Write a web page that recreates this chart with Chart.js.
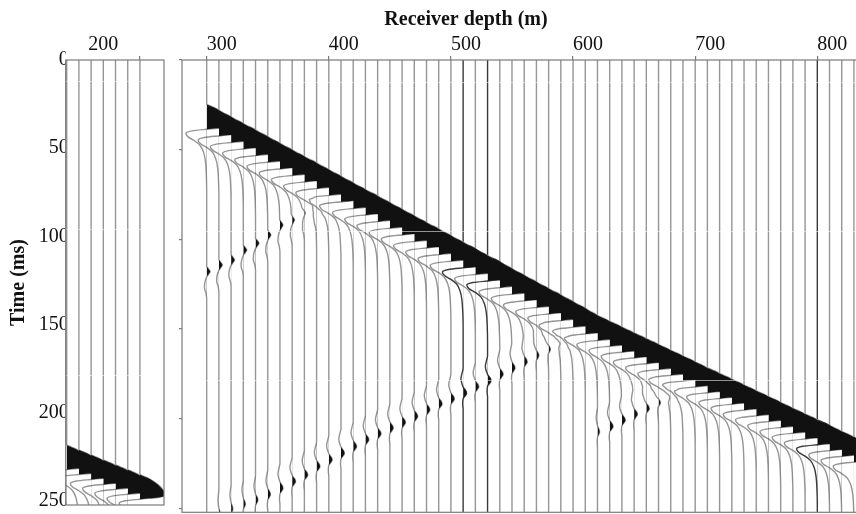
<!DOCTYPE html>
<html>
<head>
<meta charset="utf-8">
<script src="https://cdn.jsdelivr.net/npm/chart.js@4.4.1/dist/chart.umd.min.js"></script>
<style>
  html, body { margin: 0; padding: 0; background: #fff; overflow: hidden; }
  #wrap { position: relative; width: 856px; height: 514px; overflow: hidden; background: #fff; }
  canvas { position: absolute; top: 0; left: 0; }
</style>
</head>
<body>
<div id="wrap">
  <canvas id="shallow" width="180" height="514"></canvas>
  <canvas id="section" width="932" height="514"></canvas>
</div>
<script>
// ---------- time axis (ms) ----------
const TIME_TICKS = [0, 50, 100, 150, 200, 250];
const TIME_MAX = 252.2;

// ---------- main section: receivers every 10 m ----------
const MAIN_DEPTHS = [300, 310, 320, 330, 340, 350, 360, 370, 380, 390,
                     400, 410, 420, 430, 440, 450, 460, 470, 480, 490,
                     500, 510, 520, 530, 540, 550, 560, 570, 580, 590,
                     600, 610, 620, 630, 640, 650, 660, 670, 680, 690,
                     700, 710, 720, 730, 740, 750, 760, 770, 780, 790,
                     800, 810, 820, 830];
const MAIN_DEPTH_TICKS = [300, 400, 500, 600, 700, 800];
// first-break (direct downgoing wave) time per receiver, ms
const MAIN_DIRECT_T = [24.5, 28.2, 31.9, 35.5, 39.2, 42.9, 46.6, 50.3, 53.9, 57.6,
                       61.3, 65.0, 68.7, 72.3, 76.0, 79.7, 83.4, 87.1, 90.7, 94.4,
                       98.1, 101.8, 105.5, 109.1, 112.8, 116.5, 120.2, 123.9, 127.5, 131.2,
                       134.9, 138.6, 142.3, 145.5, 148.8, 152.0, 155.2, 158.5, 161.7, 164.9,
                       168.1, 171.4, 174.6, 177.8, 181.1, 184.3, 187.5, 190.8, 194.0, 197.2,
                       200.4, 203.7, 206.9, 210.1];

// upgoing reflection from the ~420 m interface
const UP1_DEPTHS = [300, 310, 320, 330, 340, 350, 360, 370, 380, 390, 400, 410];
const UP1_T      = [118.0, 114.3, 111.5, 106.0, 102.2, 97.6, 92.0, 89.2, 85.2, 81.1, 77.0, 72.9];
const UP1_GAIN   = [1.0, 1.0, 1.0, 1.0, 1.0, 0.9, 0.9, 0.8, 0.7, 0.6, 0.5, 0.4];

// upgoing reflection from the ~620 m interface
const UP2_DEPTHS = [310, 320, 330, 340, 350, 360, 370, 380, 390, 400,
                    410, 420, 430, 440, 450, 460, 470, 480, 490, 500,
                    510, 520, 530, 540, 550, 560, 570, 580, 590, 600, 610];
const UP2_T      = [253.5, 250.5, 247.8, 245.5, 242.4, 238.9, 235.2, 231.5, 226.8, 223.1,
                    219.4, 215.7, 211.9, 208.6, 205.4, 202.3, 198.9, 195.2, 191.9, 189.1,
                    185.9, 182.4, 178.9, 175.4, 171.9, 168.4, 164.9, 161.4, 157.9, 154.4, 150.9];
const UP2_GAIN   = [0.4, 0.5, 0.6, 0.7, 0.8, 0.9, 1.0, 1.0, 1.0, 1.0,
                    1.0, 1.0, 1.0, 1.0, 1.0, 1.0, 1.0, 1.0, 1.0, 1.0,
                    1.0, 1.0, 1.0, 1.0, 0.9, 0.9, 0.8, 0.8, 0.7, 0.6, 0.5];

// upgoing reflection from the ~720 m interface
const UP3_DEPTHS = [620, 630, 640, 650, 660, 670, 680, 690, 700];
const UP3_T      = [207.5, 204.5, 201.0, 197.7, 194.4, 191.1, 187.8, 184.5, 181.2];
const UP3_GAIN   = [0.6, 1.0, 1.0, 1.0, 1.0, 0.9, 0.8, 0.6, 0.4];

// ---------- shallow window ----------
const LEFT_DEPTHS   = [170, 180, 190, 200, 210, 220, 230];
const LEFT_DIRECT_T = [218.0, 220.8, 223.6, 226.4, 229.2, 232.0, 234.8];
const LEFT_LABEL_TICKS = [200];
const LEFT_MARK_TICKS  = [230];

// ---------- wavelets: lag (ms) and amplitude (in receiver spacings) ----------
const DIRECT_LAG = [0, 1, 2, 3.5, 6, 9, 11.5, 13, 14, 15, 16.5, 18.5, 20.5, 23, 27, 32, 39, 48];
const DIRECT_AMP = [0, 0.25, 0.6, 1.0, 1.5, 1.9, 2.1, 1.6, 0.2, -1.2, -1.7, -1.5, -1.0, -0.55, -0.25, -0.1, -0.03, 0];
const UP1_LAG = [-3, -1.5, 0, 1.5, 3, 6, 9, 12, 15];
const UP1_AMP = [0, 0.15, 0.28, 0.15, 0, -0.15, -0.18, -0.06, 0];
const UP2_LAG = [-14, -11, -8, -5, -3, -1.5, 0, 1.5, 3, 6, 9];
const UP2_AMP = [0, -0.1, -0.18, -0.08, 0.05, 0.22, 0.28, 0.15, 0, -0.04, 0];

// receivers whose traces print darker
const DARK_TRACES = [510, 530, 800];

// faint light streaks running across the section (times, ms)
const STREAK_T = [12.1, 95.6, 178.5];

const SPACING = 10;          // metres between receivers
const FONT = "'Liberation Serif', 'Times New Roman', serif";
const TRACE_GREY = '#959595';
const TRACE_DARK = '#3a3a3a';
const FRAME = '#7a7a7a';

function shapeAt(lags, amps, tau) {
  if (tau <= lags[0] || tau >= lags[lags.length - 1]) return 0;
  for (let k = 1; k < lags.length; k++) {
    if (tau <= lags[k]) {
      const f = (tau - lags[k - 1]) / (lags[k] - lags[k - 1]);
      return amps[k - 1] + f * (amps[k] - amps[k - 1]);
    }
  }
  return 0;
}

// one wiggle trace: x = receiver depth + scaled amplitude, y = time
function buildTrace(depth, arrivals) {
  const times = new Set([0, TIME_MAX]);
  arrivals.forEach(a => a.lags.forEach(l => {
    const t = a.t + l;
    if (t > 0 && t < TIME_MAX) times.add(+t.toFixed(3));
  }));
  return [...times].sort((p, q) => p - q).map(t => ({
    y: t,
    x: depth + SPACING * arrivals.reduce((s, a) => s + a.gain * shapeAt(a.lags, a.amps, t - a.t), 0)
  }));
}

function arrivalsFor(depth, directT, events) {
  const list = [{ t: directT, gain: 1, lags: DIRECT_LAG, amps: DIRECT_AMP }];
  events.forEach(ev => {
    const k = ev.depths.indexOf(depth);
    if (k >= 0) list.push({ t: ev.times[k], gain: ev.gains[k], lags: ev.lags, amps: ev.amps });
  });
  return list;
}

function traceDataset(depth, data) {
  return {
    data,
    baseDepth: depth,
    borderColor: DARK_TRACES.includes(depth) ? TRACE_DARK : TRACE_GREY,
    borderWidth: 1.4,
    pointRadius: 0,
    fill: false,
    cubicInterpolationMode: 'monotone'
  };
}

const UPGOING = [
  { depths: UP1_DEPTHS, times: UP1_T, gains: UP1_GAIN, lags: UP1_LAG, amps: UP1_AMP },
  { depths: UP2_DEPTHS, times: UP2_T, gains: UP2_GAIN, lags: UP2_LAG, amps: UP2_AMP },
  { depths: UP3_DEPTHS, times: UP3_T, gains: UP3_GAIN, lags: UP2_LAG, amps: UP2_AMP }
];

const mainSets = MAIN_DEPTHS.map((d, i) =>
  traceDataset(d, buildTrace(d, arrivalsFor(d, MAIN_DIRECT_T[i], UPGOING))));
const leftSets = LEFT_DEPTHS.map((d, i) =>
  traceDataset(d, buildTrace(d, arrivalsFor(d, LEFT_DIRECT_T[i], []))));

// black variable-area fill on the positive (right-hand) side of each trace
const wiggleFill = {
  id: 'wiggleFill',
  afterDatasetsDraw(chart) {
    const { ctx, chartArea: a, scales } = chart;
    chart.data.datasets.forEach((ds, i) => {
      const meta = chart.getDatasetMeta(i);
      const pts = meta.data;
      if (!pts || !pts.length) return;
      const xb = scales.x.getPixelForValue(ds.baseDepth);
      ctx.save();
      ctx.beginPath();
      ctx.rect(xb, a.top, a.right - xb, a.bottom - a.top);
      ctx.clip();
      ctx.beginPath();
      meta.dataset.path(ctx);
      ctx.lineTo(xb, pts[pts.length - 1].y);
      ctx.lineTo(xb, pts[0].y);
      ctx.closePath();
      ctx.fillStyle = '#111';
      ctx.fill();
      ctx.restore();
    });
  }
};

// light streaks and rectangular panel frame
const panelFrame = {
  id: 'panelFrame',
  afterDatasetsDraw(chart, args, opts) {
    const { ctx, chartArea: a, scales } = chart;
    ctx.save();
    ctx.strokeStyle = 'rgba(255,255,255,0.55)';
    ctx.lineWidth = 1;
    STREAK_T.forEach(t => {
      const y = Math.round(scales.y.getPixelForValue(t)) + 0.5;
      ctx.beginPath();
      ctx.moveTo(a.left, y);
      ctx.lineTo(a.right, y);
      ctx.stroke();
    });
    ctx.strokeStyle = opts.color || FRAME;
    ctx.lineWidth = opts.width || 1.2;
    ctx.strokeRect(a.left, a.top, a.right - a.left, a.bottom - a.top);
    ctx.restore();
  }
};

const commonOpts = {
  responsive: false,
  animation: false,
  indexAxis: 'y',
  events: [],
  plugins: { legend: { display: false }, tooltip: { enabled: false } }
};

// shallow window with the time axis
new Chart(document.getElementById('shallow'), {
  type: 'line',
  data: { datasets: leftSets },
  options: {
    ...commonOpts,
    layout: { padding: { left: 0, right: 16, top: 0, bottom: 1.7 } },
    plugins: { ...commonOpts.plugins, panelFrame: { color: FRAME, width: 1.2 } },
    scales: {
      x: {
        type: 'linear', position: 'top', min: 169.2, max: 249.7,
        afterBuildTicks: s => { s.ticks = [...LEFT_LABEL_TICKS, ...LEFT_MARK_TICKS].map(v => ({ value: v })); },
        afterFit: s => { s.height = 60; },
        border: { display: false },
        grid: {
          drawOnChartArea: false, drawTicks: true, tickLength: 4, lineWidth: 1.2,
          tickColor: c => (c.tick && LEFT_MARK_TICKS.includes(c.tick.value)) ? FRAME : 'rgba(0,0,0,0)'
        },
        ticks: {
          padding: -1, color: '#111', font: { family: FONT, size: 20 },
          maxRotation: 0, autoSkip: false,
          callback: v => LEFT_LABEL_TICKS.includes(v) ? String(v) : ''
        }
      },
      y: {
        type: 'linear', reverse: true, min: 0, max: TIME_MAX,
        afterBuildTicks: s => { s.ticks = TIME_TICKS.map(v => ({ value: v })); },
        afterFit: s => { s.width = 65.7; },
        border: { display: false },
        grid: { display: false, drawTicks: false },
        ticks: { padding: -3, color: '#111', font: { family: FONT, size: 20 }, autoSkip: false },
        title: {
          display: true, text: 'Time (ms)', color: '#111',
          font: { family: FONT, size: 20, weight: 'bold', lineHeight: 1.2 },
          padding: { top: 7, bottom: 0 }
        }
      }
    }
  },
  plugins: [wiggleFill, panelFrame]
});

// main receiver-depth section
new Chart(document.getElementById('section'), {
  type: 'line',
  data: { datasets: mainSets },
  options: {
    ...commonOpts,
    layout: { padding: { left: 75, right: 75, top: 0, bottom: 1.7 } },
    plugins: {
      ...commonOpts.plugins,
      title: {
        display: true, text: 'Receiver depth (m)', color: '#111',
        font: { family: FONT, size: 20, weight: 'bold', lineHeight: 1.2 },
        padding: { top: 8, bottom: 0 }
      },
      panelFrame: { color: FRAME, width: 1.2 }
    },
    scales: {
      x: {
        type: 'linear', position: 'top', min: 279.8, max: 832.5,
        afterBuildTicks: s => { s.ticks = MAIN_DEPTH_TICKS.map(v => ({ value: v })); },
        afterFit: s => { s.height = 28; },
        border: { display: false },
        grid: { drawOnChartArea: false, drawTicks: true, tickLength: 4, tickColor: FRAME, lineWidth: 1.2 },
        ticks: { padding: -1, labelOffset: 15, color: '#111', font: { family: FONT, size: 20 }, maxRotation: 0, autoSkip: false }
      },
      y: {
        type: 'linear', reverse: true, min: 0, max: TIME_MAX,
        afterBuildTicks: s => { s.ticks = TIME_TICKS.map(v => ({ value: v })); },
        afterFit: s => { s.width = 107; },
        border: { display: false },
        grid: { drawOnChartArea: false, drawTicks: true, tickLength: 3, tickColor: FRAME, lineWidth: 1.2 },
        ticks: { display: false }
      }
    }
  },
  plugins: [wiggleFill, panelFrame]
});
</script>
</body>
</html>
